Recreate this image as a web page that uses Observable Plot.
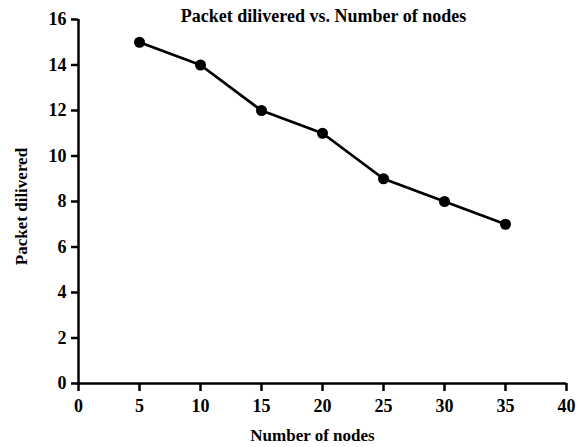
<!DOCTYPE html>
<html>
<head>
<meta charset="utf-8">
<script src="https://cdn.jsdelivr.net/npm/d3@7"></script>
<script src="https://cdn.jsdelivr.net/npm/@observablehq/plot@0.6"></script>
<style>
  html, body { margin: 0; padding: 0; background: #fff; }
  #chart svg { display: block; }
</style>
</head>
<body>
<div id="chart"></div>
<script>
const nodes = [5, 10, 15, 20, 25, 30, 35];
const packets = [15, 14, 12, 11, 9, 8, 7];
const xTicks = [0, 5, 10, 15, 20, 25, 30, 35, 40];
const yTicks = [0, 2, 4, 6, 8, 10, 12, 14, 16];
const titleText = "Packet dilivered vs. Number of nodes";
const xLabel = "Number of nodes";
const yLabel = "Packet dilivered";

const data = nodes.map((n, i) => ({nodes: n, packets: packets[i]}));
const font = "'Liberation Serif', 'Times New Roman', serif";

const chart = Plot.plot({
  width: 584,
  height: 447,
  marginLeft: 78,
  marginRight: 18,
  marginTop: 19,
  marginBottom: 64,
  style: {fontFamily: font, background: "#fff", color: "#000"},
  x: {domain: [0, 40]},
  y: {domain: [0, 16]},
  marks: [
    Plot.axisX({ticks: xTicks, tickSize: 8, tickPadding: 8, strokeWidth: 2.5, fontSize: 18, fontWeight: "bold", label: null, fill: "#000"}),
    Plot.axisY({ticks: yTicks, tickSize: 7, tickPadding: 5, strokeWidth: 2.5, fontSize: 18, fontWeight: "bold", label: null, fill: "#000"}),
    Plot.ruleX([0], {stroke: "#000", strokeWidth: 2.5}),
    Plot.ruleY([0], {stroke: "#000", strokeWidth: 2.5}),
    Plot.line(data, {x: "nodes", y: "packets", stroke: "#000", strokeWidth: 2.8}),
    Plot.dot(data, {x: "nodes", y: "packets", r: 5.5, fill: "#000"}),
    Plot.text([titleText], {text: d => d, frameAnchor: "top", dx: 1, dy: -3, fontSize: 18, fontWeight: "bold", fill: "#000", lineAnchor: "middle"}),
    Plot.text([xLabel], {text: d => d, frameAnchor: "bottom", dx: -10, dy: 52, fontSize: 17, fontWeight: "bold", fill: "#000", lineAnchor: "middle"}),
    Plot.text([yLabel], {text: d => d, frameAnchor: "left", textAnchor: "middle", dx: -57, dy: 5, rotate: -90, fontSize: 17, fontWeight: "bold", fill: "#000", lineAnchor: "middle"})
  ]
});
document.getElementById("chart").appendChild(chart);
</script>
</body>
</html>
